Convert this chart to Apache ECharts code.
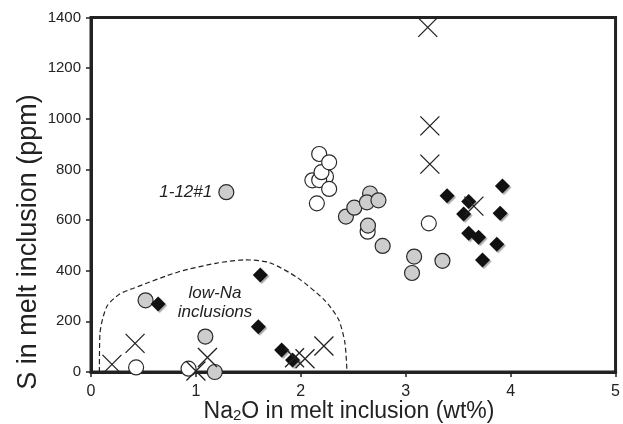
<!DOCTYPE html>
<html>
<head>
<meta charset="utf-8">
<script src="https://cdn.jsdelivr.net/npm/echarts@6/dist/echarts.min.js"></script>
<style>html,body{margin:0;padding:0;background:#fff}#c{width:623px;height:424px}</style>
</head>
<body>
<div id="c"></div>
<script>
var xTicks = [0, 1, 2, 3, 4, 5];
var yTicks = [0, 200, 400, 600, 800, 1000, 1200, 1400];

var whiteCircles = [
  [2.11, 757], [2.24, 772], [2.175, 758], [2.197, 789], [2.175, 861], [2.27, 828],
  [2.27, 723], [2.153, 666], [2.637, 554], [3.22, 587], [0.43, 18], [0.93, 13]
];
var grayCircles = [
  [2.66, 705], [0.52, 283], [1.09, 140], [1.18, 0], [2.43, 614], [2.51, 649],
  [2.63, 670], [2.74, 678], [2.64, 578], [2.78, 498], [3.08, 456], [3.06, 391], [3.35, 439]
];
var labeledPoint = [1.29, 710];
var labeledName = '1-12#1';
var diamonds = [
  [0.64, 269], [1.614, 383], [1.595, 179], [1.817, 87], [1.921, 47],
  [3.394, 696], [3.922, 735], [3.6, 673], [3.552, 624], [3.9, 627],
  [3.6, 548], [3.694, 532], [3.868, 505], [3.732, 442]
];
var crosses = [
  [0.2, 30], [0.42, 113], [1.0, 4], [1.11, 57], [1.94, 56], [2.04, 52], [2.22, 103],
  [3.21, 1361], [3.23, 972], [3.23, 821], [3.65, 655]
];
var lowNaBoundary = [
  [0.08, 0], [0.085, 150], [0.15, 258], [0.27, 307], [0.4, 330], [0.83, 395],
  [1.2, 430], [1.47, 443], [1.7, 432], [1.97, 372], [2.23, 282], [2.36, 207],
  [2.42, 116], [2.44, 0]
];

var FONT = '"Liberation Sans", Arial, Helvetica, sans-serif';
var chart = echarts.init(document.getElementById('c'), null, {renderer: 'canvas'});

var circleStyle = function (fill) {
  return {color: fill, borderColor: '#2a2a2a', borderWidth: 1.2, opacity: 1};
};

chart.setOption({
  animation: false,
  backgroundColor: '#fff',
  grid: {left: 91, top: 17.5, width: 526.5, height: 354.5, show: true,
         borderColor: '#222', borderWidth: 3, backgroundColor: 'transparent'},
  xAxis: {
    type: 'value', min: xTicks[0], max: xTicks[xTicks.length - 1], interval: 1,
    axisLine: {show: true, onZero: false, lineStyle: {color: '#222', width: 3}},
    axisTick: {show: true, length: 5, lineStyle: {color: '#222', width: 1.5}},
    axisLabel: {fontSize: 16, color: '#222', margin: 12, fontFamily: FONT,
                formatter: function (v) { return String(v); }},
    splitLine: {show: false}
  },
  yAxis: {
    type: 'value', min: yTicks[0], max: yTicks[yTicks.length - 1], interval: 200,
    axisLine: {show: true, onZero: false, lineStyle: {color: '#222', width: 3}},
    axisTick: {show: true, length: 5, lineStyle: {color: '#222', width: 1.5}},
    axisLabel: {fontSize: 15, color: '#222', margin: 10, fontFamily: FONT,
                formatter: function (v) { return String(v); }},
    splitLine: {show: false}
  },
  graphic: [
    {type: 'text', x: 29, y: 242, rotation: Math.PI / 2,
     style: {text: 'S in melt inclusion (ppm)', font: '27px ' + FONT, fill: '#222',
             textAlign: 'center', textVerticalAlign: 'middle'}},
    {type: 'text', x: 349, y: 412,
     style: {text: 'Na{sub|2}O in melt inclusion (wt%)', fontSize: 23, fontFamily: FONT, fill: '#222',
             textAlign: 'center', textVerticalAlign: 'middle',
             rich: {sub: {fontSize: 15, fontFamily: FONT, fill: '#222', verticalAlign: 'bottom'}}}},
    {type: 'text', x: 215, y: 303,
     style: {text: 'low-Na\ninclusions', fontSize: 17, fontStyle: 'italic', fontFamily: FONT,
             fill: '#222', textAlign: 'center', textVerticalAlign: 'middle', lineHeight: 19}}
  ],
  series: [
    {type: 'line', data: lowNaBoundary, smooth: 0.25, symbol: 'none', z: 1,
     lineStyle: {color: '#222', width: 1.2, type: [5, 3]}},
    {type: 'scatter', data: whiteCircles, symbol: 'circle', symbolSize: 15, z: 2,
     itemStyle: circleStyle('#ffffff')},
    {type: 'scatter', z: 3, symbol: 'circle', symbolSize: 15, itemStyle: circleStyle('#cdcdcd'),
     data: grayCircles.concat([{value: labeledPoint,
       label: {show: true, position: 'left', distance: 6, formatter: labeledName,
               fontSize: 17, fontStyle: 'italic', fontFamily: FONT, color: '#222'}}])},
    {type: 'scatter', data: diamonds, symbol: 'diamond', symbolSize: 15, z: 4,
     itemStyle: {color: '#111111', opacity: 1, shadowColor: 'rgba(160,160,160,0.9)', shadowBlur: 1,
                 shadowOffsetX: 1.5, shadowOffsetY: 1.5}},
    {type: 'scatter', data: crosses, symbol: 'path://M0,0L20,20M20,0L0,20', symbolSize: 19, z: 5,
     itemStyle: {color: 'rgba(0,0,0,0)', borderColor: '#222', borderWidth: 1.3, opacity: 1}}
  ]
});
</script>
</body>
</html>
